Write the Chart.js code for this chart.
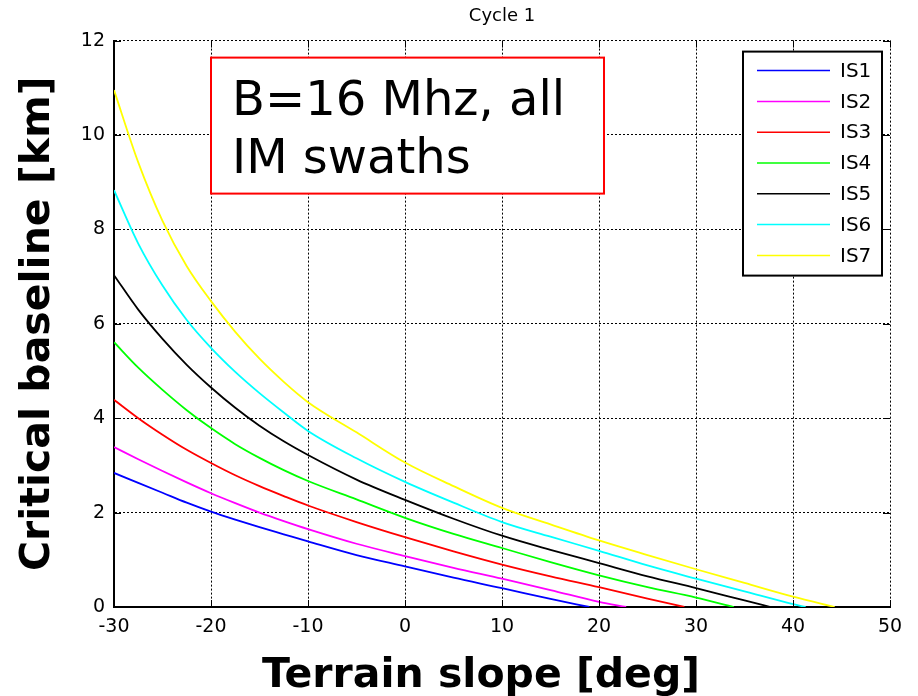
<!DOCTYPE html>
<html>
<head>
<meta charset="utf-8">
<script src="https://cdn.jsdelivr.net/npm/chart.js@4/dist/chart.umd.min.js"></script>
<style>
  html, body { margin: 0; padding: 0; background: #fff; }
  #wrap { width: 918px; height: 696px; }
</style>
</head>
<body>
<div id="wrap"><canvas id="c" width="918" height="696"></canvas></div>
<script>
// critical baseline vs terrain slope, one curve per IM swath
const slope = [-30, -27.5, -25, -22.5, -20, -17.5, -15, -12.5, -10, -5, 0, 5, 10, 15, 20, 25, 30, 35, 40];
const is1 = [2.84, 2.63, 2.42, 2.21, 2.02, 1.85, 1.69, 1.54, 1.39, 1.10, 0.86, 0.62, 0.40, 0.17, null, null, null, null, null];
const is2 = [3.39, 3.13, 2.88, 2.64, 2.41, 2.20, 2.00, 1.82, 1.65, 1.34, 1.08, 0.83, 0.60, 0.36, 0.11, null, null, null, null];
const is3 = [4.39, 4.00, 3.65, 3.33, 3.05, 2.79, 2.56, 2.35, 2.15, 1.80, 1.48, 1.18, 0.90, 0.65, 0.42, 0.18, null, null, null];
const is4 = [5.61, 5.07, 4.60, 4.17, 3.79, 3.45, 3.16, 2.90, 2.67, 2.28, 1.89, 1.55, 1.25, 0.95, 0.67, 0.42, 0.20, null, null];
const is5 = [7.03, 6.30, 5.68, 5.13, 4.65, 4.22, 3.84, 3.51, 3.22, 2.70, 2.27, 1.87, 1.51, 1.21, 0.93, 0.65, 0.40, 0.14, null];
const is6 = [8.83, 7.70, 6.81, 6.08, 5.49, 4.98, 4.53, 4.12, 3.73, 3.15, 2.65, 2.21, 1.80, 1.49, 1.19, 0.88, 0.60, 0.33, 0.06];
const is7 = [10.95, 9.42, 8.18, 7.22, 6.48, 5.83, 5.26, 4.77, 4.34, 3.70, 3.06, 2.56, 2.10, 1.75, 1.41, 1.10, 0.80, 0.51, 0.22];
// slope where each curve reaches zero
const zeroAt = [19.0, 22.8, 28.8, 33.9, 37.7, 41.3, 44.3];

const names = ['IS1', 'IS2', 'IS3', 'IS4', 'IS5', 'IS6', 'IS7'];
const colors = ['#0000ff', '#ff00ff', '#ff0000', '#00ff00', '#000000', '#00ffff', '#ffff00'];
const series = [is1, is2, is3, is4, is5, is6, is7];

const xTicks = [-30, -20, -10, 0, 10, 20, 30, 40, 50];
const yTicks = [0, 2, 4, 6, 8, 10, 12];
const note = ['B=16 Mhz, all', 'IM swaths'];

function toPoints(vals, end) {
  const pts = [];
  vals.forEach((v, i) => { if (v !== null) pts.push({ x: slope[i], y: v }); });
  pts.push({ x: end, y: 0 });
  return pts;
}

const FONT = '"DejaVu Sans", Verdana, sans-serif';

// red text box, legend box, inward ticks, x title
const decor = {
  id: 'decor',
  afterDraw(chart) {
    const ctx = chart.ctx;
    const a = chart.chartArea;
    const xs = chart.scales.x, ys = chart.scales.y;
    ctx.save();

    // inward tick marks on all four sides
    ctx.strokeStyle = '#000';
    ctx.lineWidth = 1;
    ctx.setLineDash([]);
    xTicks.forEach(t => {
      const px = Math.round(xs.getPixelForValue(t)) + 0.5;
      ctx.beginPath();
      ctx.moveTo(px, a.bottom); ctx.lineTo(px, a.bottom - 7);
      ctx.moveTo(px, a.top); ctx.lineTo(px, a.top + 7);
      ctx.stroke();
    });
    yTicks.forEach(t => {
      const py = Math.round(ys.getPixelForValue(t)) + 0.5;
      ctx.beginPath();
      ctx.moveTo(a.left, py); ctx.lineTo(a.left + 7, py);
      ctx.moveTo(a.right, py); ctx.lineTo(a.right - 7, py);
      ctx.stroke();
    });

    // annotation box
    const bx = a.left + 97, by = a.top + 17, bw = 393, bh = 136;
    ctx.fillStyle = '#fff';
    ctx.fillRect(bx, by, bw, bh);
    ctx.strokeStyle = '#ff0000';
    ctx.lineWidth = 2;
    ctx.strokeRect(bx, by, bw, bh);
    ctx.fillStyle = '#000';
    ctx.font = '48px ' + FONT;
    ctx.textAlign = 'left';
    ctx.textBaseline = 'alphabetic';
    ctx.fillText(note[0], bx + 21, by + 57);
    ctx.fillText(note[1], bx + 21, by + 115);

    // legend
    const lx = a.right - 147, ly = a.top + 11, lw = 139, lh = 224;
    ctx.fillStyle = '#fff';
    ctx.fillRect(lx, ly, lw, lh);
    ctx.strokeStyle = '#000';
    ctx.lineWidth = 2;
    ctx.strokeRect(lx, ly, lw, lh);
    ctx.font = '20px ' + FONT;
    ctx.textBaseline = 'middle';
    chart.data.datasets.forEach((ds, i) => {
      const ry = ly + 19 + i * 30.8;
      ctx.strokeStyle = ds.borderColor;
      ctx.lineWidth = 1.5;
      ctx.beginPath();
      ctx.moveTo(lx + 14, ry); ctx.lineTo(lx + 87, ry);
      ctx.stroke();
      ctx.fillStyle = '#000';
      ctx.fillText(ds.label, lx + 97, ry + 1);
    });

    // x axis title
    ctx.font = 'bold 41px ' + FONT;
    ctx.textAlign = 'center';
    ctx.textBaseline = 'alphabetic';
    ctx.fillText('Terrain slope [deg]', a.left + 367, 687);
    ctx.restore();
  }
};

new Chart(document.getElementById('c'), {
  type: 'scatter',
  data: {
    datasets: series.map((s, i) => ({
      label: names[i],
      data: toPoints(s, zeroAt[i]),
      showLine: true,
      borderColor: colors[i],
      backgroundColor: colors[i],
      borderWidth: 1.8,
      pointRadius: 0,
      cubicInterpolationMode: 'monotone',
    })),
  },
  options: {
    responsive: false,
    animation: false,
    layout: { padding: { left: 0, right: 28, top: 0, bottom: 0 } },
    plugins: {
      legend: { display: false },
      tooltip: { enabled: false },
      title: {
        display: true,
        fullSize: false,
        text: 'Cycle 1',
        color: '#000',
        font: { family: FONT, size: 18, weight: 'normal' },
        padding: { top: 6, bottom: 13 },
      },
    },
    scales: {
      x: {
        type: 'linear',
        min: -30, max: 50,
        afterBuildTicks: s => { s.ticks = xTicks.map(v => ({ value: v })); },
        afterFit: s => { s.height = 89; },
        ticks: { color: '#000', font: { family: FONT, size: 19 }, padding: 9, maxRotation: 0 },
        grid: { color: '#000', lineWidth: 1, drawTicks: false },
        border: { color: '#000', width: 2, dash: [2, 2] },
      },
      y: {
        type: 'linear',
        min: 0, max: 12,
        afterBuildTicks: s => { s.ticks = yTicks.map(v => ({ value: v })); },
        afterFit: s => { s.width = 114; },
        ticks: { color: '#000', font: { family: FONT, size: 19 }, padding: 9 },
        grid: { color: '#000', lineWidth: 1, drawTicks: false },
        border: { color: '#000', width: 2, dash: [2, 2] },
        title: {
          display: true,
          text: 'Critical baseline [km]',
          color: '#000',
          font: { family: FONT, size: 41, weight: 'bold' },
          padding: { top: 14, bottom: 0 },
        },
      },
    },
  },
  plugins: [decor],
});
</script>
</body>
</html>
